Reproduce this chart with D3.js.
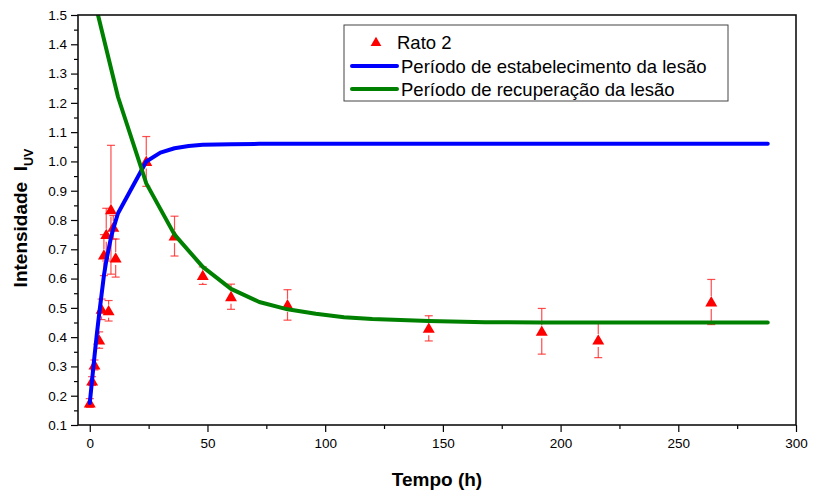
<!DOCTYPE html>
<html>
<head>
<meta charset="utf-8">
<script src="https://cdn.jsdelivr.net/npm/d3@7"></script>
<style>
  body { margin: 0; background: #fff; }
  svg { display: block; font-family: "Liberation Sans", Arial, sans-serif; }
  .tick text { font-size: 13.5px; fill: #000; font-family: "Liberation Sans", Arial, sans-serif; }
  .tick line { stroke: #000; stroke-width: 1.2; }
</style>
</head>
<body>
<svg id="chart" width="813" height="494"></svg>
<script>
// medidas do rato 2
const tempo = [0, 1, 2, 4, 5, 6, 7, 8, 9, 10, 11, 24, 36, 48, 60, 84, 144, 192, 216, 264];
const intensidade = [0.175, 0.25, 0.305, 0.39, 0.495, 0.68, 0.75, 0.49, 0.835, 0.775, 0.67, 1.0, 0.745, 0.61, 0.538, 0.51, 0.43, 0.42, 0.39, 0.52];
const erro = [0.015, 0.015, 0.017, 0.028, 0.035, 0.07, 0.09, 0.035, 0.22, 0.04, 0.065, 0.085, 0.068, 0.03, 0.043, 0.052, 0.043, 0.078, 0.06, 0.077];

// curva ajustada - estabelecimento da lesao
const tempoEst = [0, 1, 2, 3, 4, 5, 6, 7, 8, 9, 10, 11, 12, 24, 30, 36, 42, 48, 60, 72, 288];
const estabelecimento = [0.175, 0.255, 0.335, 0.41, 0.48, 0.545, 0.61, 0.66, 0.70, 0.74, 0.77, 0.797, 0.823, 1.0, 1.03, 1.045, 1.053, 1.057, 1.059, 1.06, 1.06];

// curva ajustada - recuperacao da lesao
const tempoRec = [0, 12, 24, 36, 48, 60, 72, 84, 96, 108, 120, 144, 168, 192, 216, 240, 264, 288];
const recuperacao = [1.615, 1.22, 0.925, 0.75, 0.64, 0.565, 0.52, 0.495, 0.48, 0.468, 0.462, 0.455, 0.451, 0.45, 0.45, 0.45, 0.45, 0.45];

const xTicks = [0, 50, 100, 150, 200, 250, 300];
const yTicks = [0.1, 0.2, 0.3, 0.4, 0.5, 0.6, 0.7, 0.8, 0.9, 1.0, 1.1, 1.2, 1.3, 1.4, 1.5];

const legendLabels = ["Rato 2", "Período de estabelecimento da lesão", "Período de recuperação da lesão"];

const MARGIN = { TOP: 15, LEFT: 78, RIGHT: 17, BOTTOM: 69 };
const width = 813, height = 494;

const svg = d3.select("#chart");

const x = d3.scaleLinear().domain([-5, 300]).range([MARGIN.LEFT, width - MARGIN.RIGHT]);
const y = d3.scaleLinear().domain([0.1, 1.5]).range([height - MARGIN.BOTTOM, MARGIN.TOP]);

const x0 = x.range()[0], x1 = x.range()[1];
const y0 = y.range()[0], y1 = y.range()[1];

svg.append("defs").append("clipPath")
  .attr("id", "plot-clip")
  .append("rect")
  .attr("x", x0).attr("y", y1)
  .attr("width", x1 - x0).attr("height", y0 - y1);

// minor ticks
const xMinor = d3.range(25, 300, 50);
const yMinor = d3.range(0.15, 1.5, 0.1);

svg.append("g")
  .attr("transform", `translate(0,${y0})`)
  .call(d3.axisBottom(x).tickValues(xMinor).tickSize(4).tickFormat(""))
  .call(g => g.select(".domain").remove());

svg.append("g")
  .attr("transform", `translate(${x0},0)`)
  .call(d3.axisLeft(y).tickValues(yMinor).tickSize(4).tickFormat(""))
  .call(g => g.select(".domain").remove());

svg.append("g")
  .attr("transform", `translate(0,${y0})`)
  .call(d3.axisBottom(x).tickValues(xTicks).tickSize(7).tickPadding(6).tickFormat(d3.format("d")))
  .call(g => g.select(".domain").remove());

svg.append("g")
  .attr("transform", `translate(${x0},0)`)
  .call(d3.axisLeft(y).tickValues(yTicks).tickSize(7).tickPadding(4).tickFormat(d3.format(".1f")))
  .call(g => g.select(".domain").remove());

// points with error bars
const pts = tempo.map((t, i) => ({ t: t, v: intensidade[i], e: erro[i] }));
const bars = svg.append("g")
  .attr("stroke", "#ff2020")
  .attr("stroke-opacity", 0.8)
  .attr("stroke-width", 1.2);

pts.forEach(d => {
  const cx = x(d.t), cy = y(d.v);
  const top = y(d.v + d.e), bot = y(d.v - d.e);
  if (cy - 6 > top) bars.append("line").attr("x1", cx).attr("x2", cx).attr("y1", top).attr("y2", cy - 6);
  if (bot > cy + 7) bars.append("line").attr("x1", cx).attr("x2", cx).attr("y1", cy + 7).attr("y2", bot);
  bars.append("line").attr("x1", cx - 4).attr("x2", cx + 4).attr("y1", top).attr("y2", top);
  bars.append("line").attr("x1", cx - 4).attr("x2", cx + 4).attr("y1", bot).attr("y2", bot);
});

const tri = d3.symbol().type(d3.symbolTriangle).size(62);

svg.append("g")
  .selectAll("path")
  .data(pts)
  .enter()
  .append("path")
  .attr("d", tri)
  .attr("fill", "#ff0000")
  .attr("transform", d => `translate(${x(d.t)},${y(d.v) + 1})`);

const line = d3.line()
  .x(d => x(d[0]))
  .y(d => y(d[1]));

const lines = svg.append("g").attr("clip-path", "url(#plot-clip)");

lines.append("path")
  .datum(tempoEst.map((t, i) => [t, estabelecimento[i]]))
  .attr("d", line)
  .attr("fill", "none")
  .attr("stroke", "#0000ff")
  .attr("stroke-width", 4)
  .attr("stroke-linejoin", "round")
  .attr("stroke-linecap", "round");

lines.append("path")
  .datum(tempoRec.map((t, i) => [t, recuperacao[i]]))
  .attr("d", line)
  .attr("fill", "none")
  .attr("stroke", "#008000")
  .attr("stroke-width", 4)
  .attr("stroke-linejoin", "round")
  .attr("stroke-linecap", "round");

// frame
svg.append("rect")
  .attr("x", x0).attr("y", y1)
  .attr("width", x1 - x0).attr("height", y0 - y1)
  .attr("fill", "none")
  .attr("stroke", "#111")
  .attr("stroke-width", 1.6);

// axis titles
svg.append("text")
  .attr("x", (x0 + x1) / 2)
  .attr("y", 486)
  .attr("text-anchor", "middle")
  .attr("font-size", 19)
  .attr("font-weight", "bold")
  .text("Tempo (h)");

const ylab = svg.append("text")
  .attr("transform", "translate(27,218) rotate(-90)")
  .attr("text-anchor", "middle")
  .attr("font-size", 19)
  .attr("font-weight", "bold");
ylab.append("tspan").text("Intensidade\u00a0\u00a0I");
ylab.append("tspan").attr("font-size", 12.5).attr("dy", 6).text("UV");

// legend
const legend = svg.append("g");
legend.append("rect")
  .attr("x", 344).attr("y", 25)
  .attr("width", 384).attr("height", 76)
  .attr("fill", "#fff")
  .attr("stroke", "#444")
  .attr("stroke-width", 1);

legend.append("path")
  .attr("d", d3.symbol().type(d3.symbolTriangle).size(50))
  .attr("fill", "#ff0000")
  .attr("transform", "translate(376,43)");

legend.append("line")
  .attr("x1", 352).attr("x2", 397).attr("y1", 66).attr("y2", 66)
  .attr("stroke", "#0000ff").attr("stroke-width", 4).attr("stroke-linecap", "round");
legend.append("line")
  .attr("x1", 352).attr("x2", 397).attr("y1", 89).attr("y2", 89)
  .attr("stroke", "#008000").attr("stroke-width", 4).attr("stroke-linecap", "round");

const legY = [48.5, 72.5, 96];
const legX = [397, 401, 401];
legendLabels.forEach((s, i) => {
  legend.append("text")
    .attr("x", legX[i]).attr("y", legY[i])
    .attr("font-size", 18.5)
    .text(s);
});
</script>
</body>
</html>
